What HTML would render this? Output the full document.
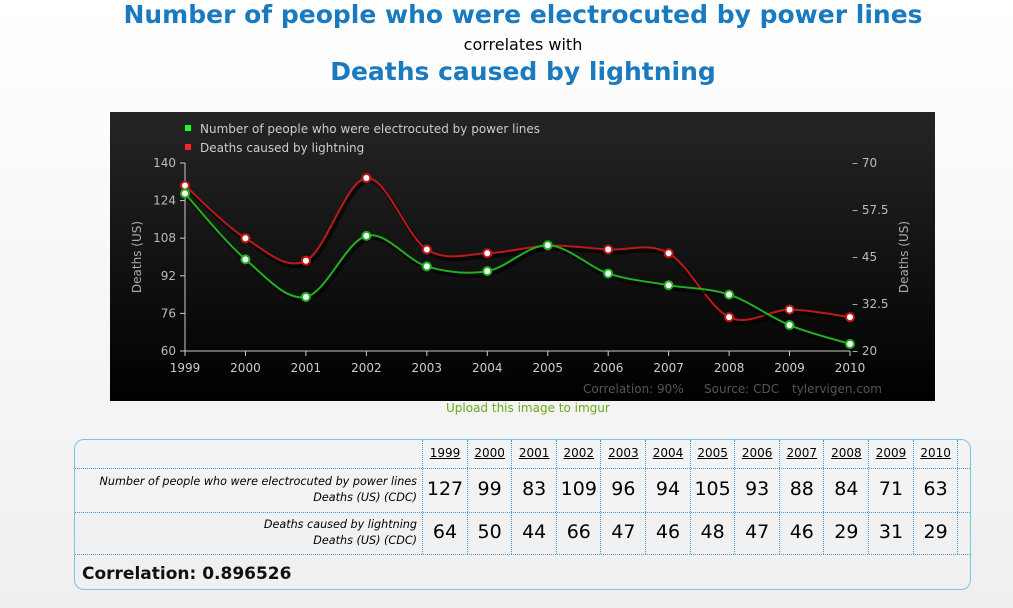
<!DOCTYPE html>
<html><head><meta charset="utf-8">
<style>
body{margin:0;width:1013px;height:608px;background:linear-gradient(#fff,#efefef);font-family:"DejaVu Sans","Liberation Sans",sans-serif;position:relative;overflow:hidden}
.t{position:absolute;left:0;width:1046px;text-align:center;color:#1a7abf;font-weight:bold}
#tbl{position:absolute;left:74px;top:439px;width:897px;height:151px;border:1px solid #7cc2ee;border-radius:10px;box-sizing:border-box}
.c{position:absolute;text-align:center;color:#000}
</style></head><body>
<div class="t" style="top:0;font-size:25px">Number of people who were electrocuted by power lines</div>
<div class="t" style="top:35px;font-size:16px;font-weight:normal;color:#000">correlates with</div>
<div class="t" style="top:57px;font-size:25px">Deaths caused by lightning</div>
<svg id="chart" width="1013" height="608" style="position:absolute;left:0;top:0">
<defs><linearGradient id="bg" x1="0" y1="0" x2="0" y2="1"><stop offset="0" stop-color="#252525"/><stop offset="1" stop-color="#000"/></linearGradient></defs>
<rect x="110" y="112" width="825" height="289" fill="url(#bg)"/>
<g id="g"></g>
</svg>
<div style="position:absolute;left:446px;top:401px;font-size:12px;color:#6aaa1a">Upload this image to imgur</div>
<div id="tbl"></div>
<script>
const years=[1999,2000,2001,2002,2003,2004,2005,2006,2007,2008,2009,2010];
const electro=[127,99,83,109,96,94,105,93,88,84,71,63];
const lightning=[64,50,44,66,47,46,48,47,46,29,31,29];
const leftTicks=[60,76,92,108,124,140];
const rightTicks=[20,32.5,45,57.5,70];
const NS='http://www.w3.org/2000/svg';
const g=document.getElementById('g');
const X=i=>185+i*(850-185)/(years.length-1);
const YL=v=>351-(v-60)/(140-60)*188;
const YR=v=>351-(v-20)/(70-20)*188;
function mk(t,a,txt){const e=document.createElementNS(NS,t);for(const k in a)e.setAttribute(k,a[k]);if(txt!==undefined)e.textContent=txt;g.appendChild(e);return e;}
function txt(x,y,s,anchor,size,fill){return mk('text',{x:x,y:y,'text-anchor':anchor,'font-size':size,fill:fill,'font-family':'DejaVu Sans, Liberation Sans, sans-serif'},s);}
let e;
e=mk('line',{x1:185,y1:163,x2:185,y2:351,stroke:'#ccc'});

e=mk('line',{x1:185,y1:351,x2:850,y2:351,stroke:'#ccc'});

leftTicks.forEach(v=>{mk('line',{x1:180,y1:YL(v),x2:185,y2:YL(v),stroke:'#ccc'});
e=txt(176,YL(v)+4,v,'end',12,'#bbb');});
rightTicks.forEach(v=>{e=txt(852,YR(v)+4,'– '+v,'start',12,'#bbb');});
years.forEach((y,i)=>{mk('line',{x1:X(i),y1:351,x2:X(i),y2:356,stroke:'#ccc'});
e=txt(X(i),372,y,'middle',12,'#ccc');});
e=txt(0,0,'Deaths (US)','middle',12,'#aaa');e.setAttribute('transform','translate(141,257) rotate(-90)');

e=txt(0,0,'Deaths (US)','middle',12,'#aaa');e.setAttribute('transform','translate(908,257) rotate(-90)');

e=txt(583,393,'Correlation: 90%','start',12,'#555');

e=txt(704,393,'Source: CDC','start',12,'#555');

e=txt(792,393,'tylervigen.com','start',12,'#555');

function path(pts){let d='M'+pts[0][0]+','+pts[0][1];for(let i=0;i<pts.length-1;i++){const p0=pts[i-1]||pts[i],p1=pts[i],p2=pts[i+1],p3=pts[i+2]||p2;
d+=' C'+(p1[0]+(p2[0]-p0[0])/6)+','+(p1[1]+(p2[1]-p0[1])/6)+' '+(p2[0]-(p3[0]-p1[0])/6)+','+(p2[1]-(p3[1]-p1[1])/6)+' '+p2[0]+','+p2[1];}return d;}
function series(vals,Y,col,name){const pts=vals.map((v,i)=>[X(i),Y(v)]);
mk('path',{d:path(pts),fill:'none',stroke:'#000','stroke-width':4,opacity:0.6,transform:'translate(2,3)'});
e=mk('path',{d:path(pts),fill:'none',stroke:col,'stroke-width':2});

pts.forEach(p=>{e=mk('circle',{cx:p[0],cy:p[1],r:4,fill:'#fff',stroke:col,'stroke-width':2});
});}
series(lightning,YR,'#c01818','lightning');
series(electro,YL,'#20b020','electrocuted');
e=mk('rect',{x:185,y:125,width:6,height:6,fill:'#2f2'});
e=txt(200,133,'Number of people who were electrocuted by power lines','start',12,'#ccc');
e=mk('rect',{x:185,y:144,width:6,height:6,fill:'#f22'});
e=txt(200,152,'Deaths caused by lightning','start',12,'#ccc');
// table
const T=document.getElementById('tbl');
const colX=i=>348+i*44.6;
function div(css,html,name){const d=document.createElement('div');d.className='c';d.style.cssText=css;d.innerHTML=html;


T.appendChild(d);return d;}
['28px','72px','114px'].forEach(t=>div('left:0;top:'+t+';width:895px;border-top:1px dotted #3a9be0;height:0','', 'row-line'));
for(let i=0;i<=12;i++)div('left:'+(colX(i)-1)+'px;top:0;height:114px;border-left:1px dotted #3a9be0','','col-line');
years.forEach((y,i)=>{div('left:'+colX(i)+'px;top:6px;width:44px;font-size:12px;text-decoration:underline',y,'year-header');
div('left:'+colX(i)+'px;top:38px;width:44px;font-size:19px',electro[i],'electro-value');
div('left:'+colX(i)+'px;top:81px;width:44px;font-size:19px',lightning[i],'lightning-value');});
div('right:553px;top:34px;text-align:right;font-size:11.2px;font-style:italic;line-height:16px;white-space:nowrap','Number of people who were electrocuted by power lines<br>Deaths (US) (CDC)','electro-label');
div('right:553px;top:77px;text-align:right;font-size:11.2px;font-style:italic;line-height:16px;white-space:nowrap','Deaths caused by lightning<br>Deaths (US) (CDC)','lightning-label');
div('left:7px;top:124px;font-size:17px;font-weight:bold;color:#111','Correlation: 0.896526','correlation-value');
</script>
</body></html>
